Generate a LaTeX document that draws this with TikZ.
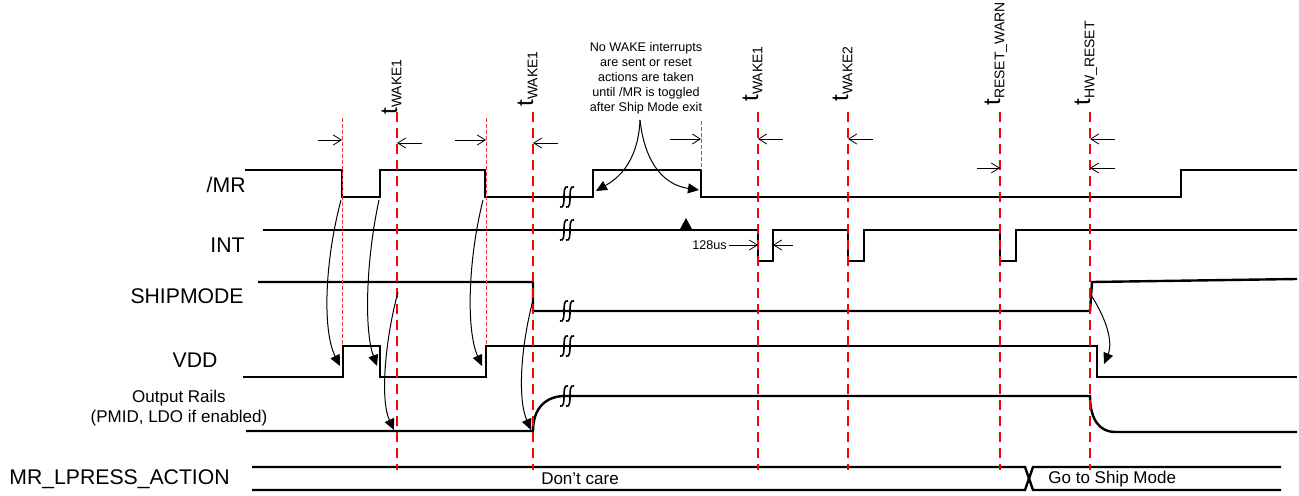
\documentclass[tikz,border=0pt]{standalone}
\usepackage{fontspec}
\setmainfont{Liberation Sans}
\usetikzlibrary{arrows.meta}
\tikzset{
  sig/.style={line width=1.2pt,line join=miter},
  tmark/.style={red,line width=0.8pt,dash pattern=on 5pt off 3pt},
  tthin/.style={red!80,line width=0.4pt,dash pattern=on 2pt off 1pt},
  dim/.style={line width=0.4pt,-{Straight Barb[length=4pt,width=5pt]}},
  cause/.style={line width=0.5pt,-{Triangle[length=5.5pt,width=5pt]}},
  lbl/.style={font=\fontsize{10.6}{12.7}\selectfont,inner sep=0pt},
  small/.style={font=\fontsize{8.5}{10}\selectfont,inner sep=0pt},
  tiny/.style={font=\fontsize{6.3}{7.5}\selectfont,inner sep=1pt},
  tlbl/.style={font=\fontsize{12}{14}\selectfont,rotate=90,anchor=base west,inner sep=0pt},
  brk/.pic={\foreach \dx in {-3,3}{\draw[line width=0.8pt] (\dx+4,-10) .. controls (\dx,-12) and (\dx,-4) .. (\dx,0)
    .. controls (\dx,4) and (\dx,12) .. (\dx-4,10);}}
}
\newcommand{\tsub}[1]{t\raisebox{-2.2pt}{\fontsize{7}{8.4}\selectfont #1}}
\begin{document}
\begin{tikzpicture}[x=0.5pt,y=-0.5pt]
  \useasboundingbox (0,0) rectangle (1299,496);
  % signal names
  \node[lbl,anchor=east] (mr) at (246,185) {/MR};
  \node[lbl,anchor=east] (int) at (245,245) {INT};
  \node[lbl,anchor=east] (ship) at (244,296) {SHIPMODE};
  \node[lbl] (vdd) at (195,360) {VDD};
  \node[small,align=center] (rails) at (179,408) {Output Rails\\(PMID, LDO if enabled)};
  \node[lbl,anchor=west] (lp) at (9,479) {MR\_LPRESS\_ACTION};

  % waveforms
  \draw[sig] (245,170) -- (342,170) -- (342,197) -- (380,197) -- (380,170) -- (485,170) -- (485,197)
    -- (593,197) -- (593,170) -- (701,170) -- (701,197) -- (1181,197) -- (1181,170) -- (1297,170);
  \draw[sig] (263,230) -- (758,230) -- (758,261) -- (773,261) -- (773,230) -- (848,230) -- (848,261)
    -- (864,261) -- (864,230) -- (1000,230) -- (1000,261) -- (1016,261) -- (1016,230) -- (1297,230);
  \draw[sig] (258,282) -- (533,282) -- (533,311) -- (1090,311) -- (1092,282) -- (1297,279);
  \draw[sig] (243,377) -- (343,377) -- (343,346) -- (380,346) -- (380,377) -- (486,377) -- (486,346)
    -- (1097,346) -- (1097,377) -- (1297,377);
  \draw[sig] (246,431) -- (533,431) .. controls (533,408) and (546,396) .. (565,396) -- (1090,396)
    .. controls (1090,420) and (1100,432) .. (1115,432) -- (1297,432);
  \fill (679,231) -- (693,231) -- (686,218) -- cycle;
  \foreach \y in {197,230,311,346,396}{\pic at (567,\y) {brk};}

  % long press action bus
  \draw[sig] (252,467) -- (1025,467) -- (1029,478.5) -- (1025,490) -- (252,490);
  \draw[sig] (1281,467) -- (1033,467) -- (1029,478.5) -- (1033,490) -- (1281,490);
  \node[small] (dc) at (580,479) {Don’t care};
  \node[small,anchor=west] (gs) at (1048,479) {Go to Ship Mode};

  % timing marks
  \foreach \x/\t/\n in {397/115/WAKE1,533/107/WAKE1,758/102/WAKE1,848/102/WAKE2,1000/106/RESET\_WARN,1090/106/HW\_RESET}{
    \node[tlbl] (t\x) at (\x,\t) {\tsub{\n}};
    \draw[tmark] (\x,112) -- (\x,470);
  }
  \foreach \x/\t/\b in {342/118/346,486/118/346,701/121/170}{\draw[tthin] (\x,\t) -- (\x,\b);}
  \foreach \a/\b/\y [count=\i] in {318/342/140,422/397/143,455/486/140,558/533/143,670/701/139,
      783/758/139,873/848/139,977/1000/168,1115/1090/139,1115/1090/168}{
    \coordinate (d\i) at (\a,\y);
    \coordinate (e\i) at (\b,\y);
    \draw[dim] (d\i) -- (e\i);
  }

  % 128us pulse width
  \node[tiny,anchor=east] (us) at (729,245) {128us};
  \coordinate (usl) at (758,245);
  \coordinate (usr0) at (793,245);
  \coordinate (usr) at (773,245);
  \draw[dim] (us.east) -- (usl);
  \draw[dim] (usr0) -- (usr);

  % cause and effect
  \coordinate (c1) at (341,200); \coordinate (v1) at (340,366);
  \coordinate (c2) at (379,200); \coordinate (v2) at (377,366);
  \coordinate (c3) at (398,292); \coordinate (o3) at (394,430);
  \coordinate (c4) at (483,200); \coordinate (v4) at (482,366);
  \coordinate (c5) at (533,300); \coordinate (o5) at (531,430);
  \coordinate (c6) at (1091,295); \coordinate (v6) at (1104,364);
  \draw[cause] (c1) .. controls (325,260) and (322,330) .. (v1);
  \draw[cause] (c2) .. controls (366,260) and (364,330) .. (v2);
  \draw[cause] (c3) .. controls (385,340) and (380,400) .. (o3);
  \draw[cause] (c4) .. controls (468,260) and (466,330) .. (v4);
  \draw[cause] (c5) .. controls (520,350) and (518,400) .. (o5);
  \draw[cause] (c6) .. controls (1110,325) and (1112,345) .. (v6);

  % note
  \node[tiny,align=center] (note) at (646,78) {No WAKE interrupts\\are sent or reset\\actions are taken\\until /MR is toggled\\after Ship Mode exit};
  \coordinate (nt) at (640,120);
  \coordinate (nl) at (596,191);
  \coordinate (nr) at (699,190);
  \draw[cause] (nt) .. controls (638,165) and (615,180) .. (nl);
  \draw[cause] (nt) .. controls (645,165) and (665,185) .. (nr);
\end{tikzpicture}
\end{document}
